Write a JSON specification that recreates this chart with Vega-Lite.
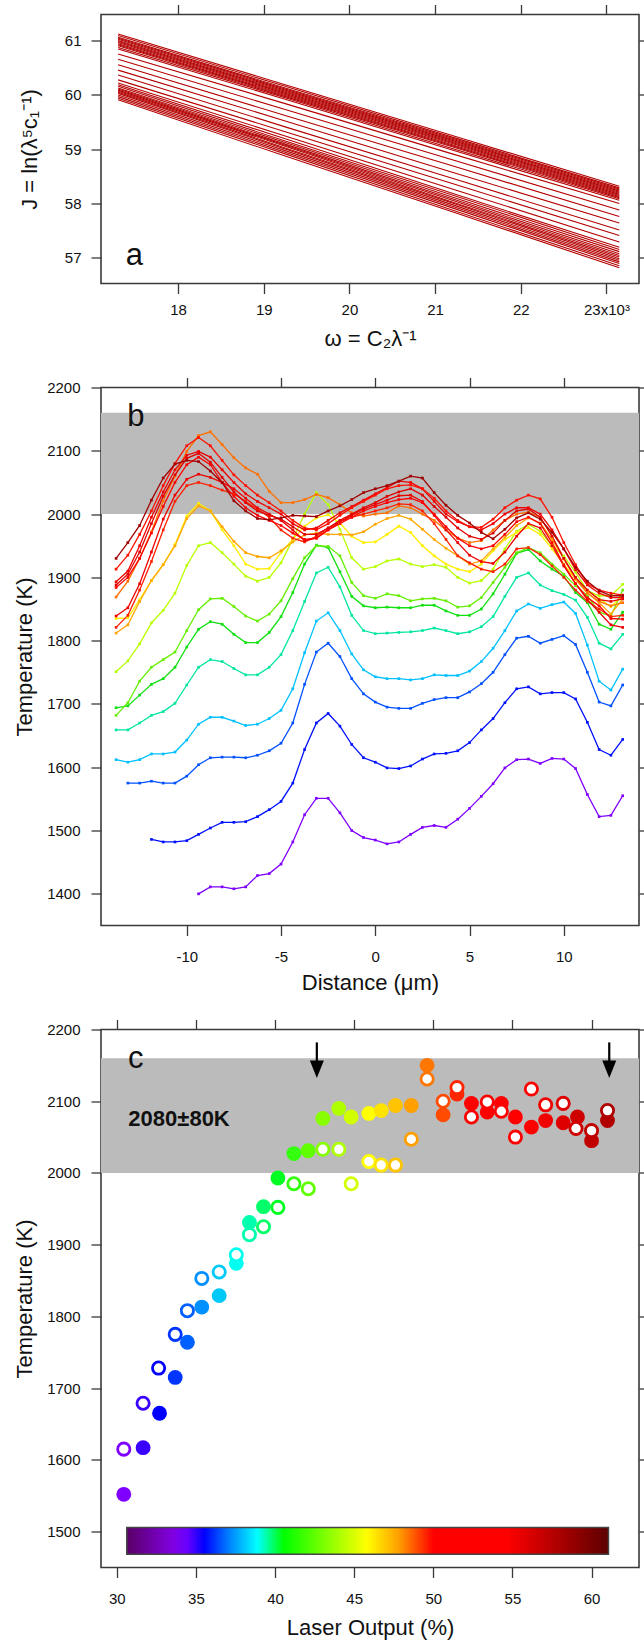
{
"$schema": "https://vega.github.io/schema/vega-lite/v6.json",
"padding": {"top": 2.5, "left": 12, "right": 0, "bottom": 0},
"bounds": "flush",
"spacing": 104,
"config": {
  "font": "Liberation Sans",
  "view": {"stroke": "#3a3a3a", "strokeWidth": 1.6},
  "axis": {"domain": false, "grid": false, "tickSize": 10, "tickColor": "#3a3a3a", "tickWidth": 1.3, "labelFont": "Liberation Sans", "labelFontSize": 15, "labelColor": "#111111", "titleFont": "Liberation Sans", "titleFontSize": 22, "titleFontWeight": "normal", "titleColor": "#111111", "labelOverlap": false, "labelFlush": false}
},
"datasets": {
"a": [
{"s":1,"w":17300,"j":61.13},{"s":1,"w":19250,"j":60.19},{"s":1,"w":21200,"j":59.25},{"s":1,"w":23150,"j":58.31},
{"s":2,"w":17300,"j":61.10},{"s":2,"w":19250,"j":60.16},{"s":2,"w":21200,"j":59.22},{"s":2,"w":23150,"j":58.28},
{"s":3,"w":17300,"j":61.07},{"s":3,"w":19250,"j":60.13},{"s":3,"w":21200,"j":59.20},{"s":3,"w":23150,"j":58.26},
{"s":4,"w":17300,"j":61.05},{"s":4,"w":19250,"j":60.11},{"s":4,"w":21200,"j":59.18},{"s":4,"w":23150,"j":58.24},
{"s":5,"w":17300,"j":61.03},{"s":5,"w":19250,"j":60.09},{"s":5,"w":21200,"j":59.16},{"s":5,"w":23150,"j":58.22},
{"s":6,"w":17300,"j":61.01},{"s":6,"w":19250,"j":60.07},{"s":6,"w":21200,"j":59.14},{"s":6,"w":23150,"j":58.20},
{"s":7,"w":17300,"j":60.99},{"s":7,"w":19250,"j":60.05},{"s":7,"w":21200,"j":59.12},{"s":7,"w":23150,"j":58.18},
{"s":8,"w":17300,"j":60.97},{"s":8,"w":19250,"j":60.03},{"s":8,"w":21200,"j":59.10},{"s":8,"w":23150,"j":58.16},
{"s":9,"w":17300,"j":60.95},{"s":9,"w":19250,"j":60.01},{"s":9,"w":21200,"j":59.08},{"s":9,"w":23150,"j":58.14},
{"s":10,"w":17300,"j":60.93},{"s":10,"w":19250,"j":59.99},{"s":10,"w":21200,"j":59.06},{"s":10,"w":23150,"j":58.12},
{"s":11,"w":17300,"j":60.91},{"s":11,"w":19250,"j":59.97},{"s":11,"w":21200,"j":59.04},{"s":11,"w":23150,"j":58.10},
{"s":12,"w":17300,"j":60.88},{"s":12,"w":19250,"j":59.95},{"s":12,"w":21200,"j":59.01},{"s":12,"w":23150,"j":58.08},
{"s":13,"w":17300,"j":60.85},{"s":13,"w":19250,"j":59.92},{"s":13,"w":21200,"j":58.98},{"s":13,"w":23150,"j":58.05},
{"s":14,"w":17300,"j":60.76},{"s":14,"w":19250,"j":59.84},{"s":14,"w":21200,"j":58.91},{"s":14,"w":23150,"j":57.99},
{"s":15,"w":17300,"j":60.66},{"s":15,"w":19250,"j":59.73},{"s":15,"w":21200,"j":58.80},{"s":15,"w":23150,"j":57.87},
{"s":16,"w":17300,"j":60.56},{"s":16,"w":19250,"j":59.62},{"s":16,"w":21200,"j":58.69},{"s":16,"w":23150,"j":57.75},
{"s":17,"w":17300,"j":60.46},{"s":17,"w":19250,"j":59.52},{"s":17,"w":21200,"j":58.57},{"s":17,"w":23150,"j":57.63},
{"s":18,"w":17300,"j":60.37},{"s":18,"w":19250,"j":59.41},{"s":18,"w":21200,"j":58.46},{"s":18,"w":23150,"j":57.50},
{"s":19,"w":17300,"j":60.28},{"s":19,"w":19250,"j":59.32},{"s":19,"w":21200,"j":58.36},{"s":19,"w":23150,"j":57.40},
{"s":20,"w":17300,"j":60.22},{"s":20,"w":19250,"j":59.24},{"s":20,"w":21200,"j":58.26},{"s":20,"w":23150,"j":57.28},
{"s":21,"w":17300,"j":60.19},{"s":21,"w":19250,"j":59.19},{"s":21,"w":21200,"j":58.18},{"s":21,"w":23150,"j":57.18},
{"s":22,"w":17300,"j":60.16},{"s":22,"w":19250,"j":59.15},{"s":22,"w":21200,"j":58.15},{"s":22,"w":23150,"j":57.14},
{"s":23,"w":17300,"j":60.13},{"s":23,"w":19250,"j":59.12},{"s":23,"w":21200,"j":58.11},{"s":23,"w":23150,"j":57.10},
{"s":24,"w":17300,"j":60.11},{"s":24,"w":19250,"j":59.09},{"s":24,"w":21200,"j":58.08},{"s":24,"w":23150,"j":57.06},
{"s":25,"w":17300,"j":60.09},{"s":25,"w":19250,"j":59.07},{"s":25,"w":21200,"j":58.05},{"s":25,"w":23150,"j":57.03},
{"s":26,"w":17300,"j":60.07},{"s":26,"w":19250,"j":59.05},{"s":26,"w":21200,"j":58.02},{"s":26,"w":23150,"j":57.00},
{"s":27,"w":17300,"j":60.05},{"s":27,"w":19250,"j":59.02},{"s":27,"w":21200,"j":58.00},{"s":27,"w":23150,"j":56.97},
{"s":28,"w":17300,"j":60.03},{"s":28,"w":19250,"j":59.00},{"s":28,"w":21200,"j":57.97},{"s":28,"w":23150,"j":56.94},
{"s":29,"w":17300,"j":60.00},{"s":29,"w":19250,"j":58.97},{"s":29,"w":21200,"j":57.94},{"s":29,"w":23150,"j":56.91},
{"s":30,"w":17300,"j":59.97},{"s":30,"w":19250,"j":58.94},{"s":30,"w":21200,"j":57.91},{"s":30,"w":23150,"j":56.88},
{"s":31,"w":17300,"j":59.94},{"s":31,"w":19250,"j":58.91},{"s":31,"w":21200,"j":57.87},{"s":31,"w":23150,"j":56.84},
{"s":32,"w":17300,"j":59.91},{"s":32,"w":19250,"j":58.87},{"s":32,"w":21200,"j":57.84},{"s":32,"w":23150,"j":56.80}
],
"b": [
{"s":1,"d":-9.375,"t":1400},{"s":1,"d":-8.75,"t":1411},{"s":1,"d":-8.125,"t":1411},{"s":1,"d":-7.5,"t":1408},{"s":1,"d":-6.875,"t":1411},{"s":1,"d":-6.25,"t":1429},{"s":1,"d":-5.625,"t":1432},{"s":1,"d":-5,"t":1447},{"s":1,"d":-4.375,"t":1482},{"s":1,"d":-3.75,"t":1525},{"s":1,"d":-3.125,"t":1551},{"s":1,"d":-2.5,"t":1551},{"s":1,"d":-1.875,"t":1528},{"s":1,"d":-1.25,"t":1500},{"s":1,"d":-0.625,"t":1489},{"s":1,"d":0,"t":1485},{"s":1,"d":0.625,"t":1479},{"s":1,"d":1.25,"t":1482},{"s":1,"d":1.875,"t":1494},{"s":1,"d":2.5,"t":1505},{"s":1,"d":3.125,"t":1508},{"s":1,"d":3.75,"t":1505},{"s":1,"d":4.375,"t":1518},{"s":1,"d":5,"t":1535},{"s":1,"d":5.625,"t":1554},{"s":1,"d":6.25,"t":1574},{"s":1,"d":6.875,"t":1599},{"s":1,"d":7.5,"t":1612},{"s":1,"d":8.125,"t":1613},{"s":1,"d":8.75,"t":1606},{"s":1,"d":9.375,"t":1614},{"s":1,"d":10,"t":1613},{"s":1,"d":10.625,"t":1598},{"s":1,"d":11.25,"t":1557},{"s":1,"d":11.875,"t":1522},{"s":1,"d":12.5,"t":1524},{"s":1,"d":13.125,"t":1555},
{"s":2,"d":-11.875,"t":1486},{"s":2,"d":-11.25,"t":1482},{"s":2,"d":-10.625,"t":1482},{"s":2,"d":-10,"t":1484},{"s":2,"d":-9.375,"t":1494},{"s":2,"d":-8.75,"t":1504},{"s":2,"d":-8.125,"t":1513},{"s":2,"d":-7.5,"t":1513},{"s":2,"d":-6.875,"t":1514},{"s":2,"d":-6.25,"t":1522},{"s":2,"d":-5.625,"t":1533},{"s":2,"d":-5,"t":1546},{"s":2,"d":-4.375,"t":1575},{"s":2,"d":-3.75,"t":1628},{"s":2,"d":-3.125,"t":1670},{"s":2,"d":-2.5,"t":1685},{"s":2,"d":-1.875,"t":1665},{"s":2,"d":-1.25,"t":1636},{"s":2,"d":-0.625,"t":1615},{"s":2,"d":0,"t":1608},{"s":2,"d":0.625,"t":1599},{"s":2,"d":1.25,"t":1598},{"s":2,"d":1.875,"t":1602},{"s":2,"d":2.5,"t":1613},{"s":2,"d":3.125,"t":1621},{"s":2,"d":3.75,"t":1622},{"s":2,"d":4.375,"t":1626},{"s":2,"d":5,"t":1639},{"s":2,"d":5.625,"t":1659},{"s":2,"d":6.25,"t":1677},{"s":2,"d":6.875,"t":1702},{"s":2,"d":7.5,"t":1724},{"s":2,"d":8.125,"t":1727},{"s":2,"d":8.75,"t":1716},{"s":2,"d":9.375,"t":1718},{"s":2,"d":10,"t":1718},{"s":2,"d":10.625,"t":1708},{"s":2,"d":11.25,"t":1671},{"s":2,"d":11.875,"t":1628},{"s":2,"d":12.5,"t":1619},{"s":2,"d":13.125,"t":1644},
{"s":3,"d":-13.125,"t":1575},{"s":3,"d":-12.5,"t":1575},{"s":3,"d":-11.875,"t":1578},{"s":3,"d":-11.25,"t":1575},{"s":3,"d":-10.625,"t":1575},{"s":3,"d":-10,"t":1586},{"s":3,"d":-9.375,"t":1604},{"s":3,"d":-8.75,"t":1615},{"s":3,"d":-8.125,"t":1616},{"s":3,"d":-7.5,"t":1616},{"s":3,"d":-6.875,"t":1615},{"s":3,"d":-6.25,"t":1619},{"s":3,"d":-5.625,"t":1626},{"s":3,"d":-5,"t":1638},{"s":3,"d":-4.375,"t":1670},{"s":3,"d":-3.75,"t":1731},{"s":3,"d":-3.125,"t":1782},{"s":3,"d":-2.5,"t":1796},{"s":3,"d":-1.875,"t":1775},{"s":3,"d":-1.25,"t":1740},{"s":3,"d":-0.625,"t":1716},{"s":3,"d":0,"t":1703},{"s":3,"d":0.625,"t":1695},{"s":3,"d":1.25,"t":1693},{"s":3,"d":1.875,"t":1693},{"s":3,"d":2.5,"t":1701},{"s":3,"d":3.125,"t":1707},{"s":3,"d":3.75,"t":1710},{"s":3,"d":4.375,"t":1710},{"s":3,"d":5,"t":1719},{"s":3,"d":5.625,"t":1732},{"s":3,"d":6.25,"t":1750},{"s":3,"d":6.875,"t":1778},{"s":3,"d":7.5,"t":1804},{"s":3,"d":8.125,"t":1807},{"s":3,"d":8.75,"t":1796},{"s":3,"d":9.375,"t":1802},{"s":3,"d":10,"t":1808},{"s":3,"d":10.625,"t":1794},{"s":3,"d":11.25,"t":1750},{"s":3,"d":11.875,"t":1703},{"s":3,"d":12.5,"t":1697},{"s":3,"d":13.125,"t":1730},
{"s":4,"d":-13.75,"t":1612},{"s":4,"d":-13.125,"t":1608},{"s":4,"d":-12.5,"t":1612},{"s":4,"d":-11.875,"t":1621},{"s":4,"d":-11.25,"t":1621},{"s":4,"d":-10.625,"t":1624},{"s":4,"d":-10,"t":1643},{"s":4,"d":-9.375,"t":1668},{"s":4,"d":-8.75,"t":1679},{"s":4,"d":-8.125,"t":1679},{"s":4,"d":-7.5,"t":1673},{"s":4,"d":-6.875,"t":1666},{"s":4,"d":-6.25,"t":1668},{"s":4,"d":-5.625,"t":1677},{"s":4,"d":-5,"t":1690},{"s":4,"d":-4.375,"t":1724},{"s":4,"d":-3.75,"t":1781},{"s":4,"d":-3.125,"t":1831},{"s":4,"d":-2.5,"t":1844},{"s":4,"d":-1.875,"t":1816},{"s":4,"d":-1.25,"t":1779},{"s":4,"d":-0.625,"t":1754},{"s":4,"d":0,"t":1743},{"s":4,"d":0.625,"t":1740},{"s":4,"d":1.25,"t":1740},{"s":4,"d":1.875,"t":1738},{"s":4,"d":2.5,"t":1740},{"s":4,"d":3.125,"t":1746},{"s":4,"d":3.75,"t":1745},{"s":4,"d":4.375,"t":1745},{"s":4,"d":5,"t":1752},{"s":4,"d":5.625,"t":1767},{"s":4,"d":6.25,"t":1788},{"s":4,"d":6.875,"t":1816},{"s":4,"d":7.5,"t":1847},{"s":4,"d":8.125,"t":1858},{"s":4,"d":8.75,"t":1851},{"s":4,"d":9.375,"t":1857},{"s":4,"d":10,"t":1861},{"s":4,"d":10.625,"t":1843},{"s":4,"d":11.25,"t":1793},{"s":4,"d":11.875,"t":1736},{"s":4,"d":12.5,"t":1722},{"s":4,"d":13.125,"t":1755},
{"s":5,"d":-13.75,"t":1659},{"s":5,"d":-13.125,"t":1659},{"s":5,"d":-12.5,"t":1670},{"s":5,"d":-11.875,"t":1682},{"s":5,"d":-11.25,"t":1688},{"s":5,"d":-10.625,"t":1701},{"s":5,"d":-10,"t":1730},{"s":5,"d":-9.375,"t":1758},{"s":5,"d":-8.75,"t":1770},{"s":5,"d":-8.125,"t":1767},{"s":5,"d":-7.5,"t":1756},{"s":5,"d":-6.875,"t":1746},{"s":5,"d":-6.25,"t":1746},{"s":5,"d":-5.625,"t":1758},{"s":5,"d":-5,"t":1778},{"s":5,"d":-4.375,"t":1816},{"s":5,"d":-3.75,"t":1862},{"s":5,"d":-3.125,"t":1907},{"s":5,"d":-2.5,"t":1916},{"s":5,"d":-1.875,"t":1885},{"s":5,"d":-1.25,"t":1840},{"s":5,"d":-0.625,"t":1816},{"s":5,"d":0,"t":1811},{"s":5,"d":0.625,"t":1812},{"s":5,"d":1.25,"t":1813},{"s":5,"d":1.875,"t":1814},{"s":5,"d":2.5,"t":1816},{"s":5,"d":3.125,"t":1820},{"s":5,"d":3.75,"t":1816},{"s":5,"d":4.375,"t":1811},{"s":5,"d":5,"t":1814},{"s":5,"d":5.625,"t":1822},{"s":5,"d":6.25,"t":1838},{"s":5,"d":6.875,"t":1870},{"s":5,"d":7.5,"t":1900},{"s":5,"d":8.125,"t":1907},{"s":5,"d":8.75,"t":1888},{"s":5,"d":9.375,"t":1879},{"s":5,"d":10,"t":1873},{"s":5,"d":10.625,"t":1864},{"s":5,"d":11.25,"t":1837},{"s":5,"d":11.875,"t":1796},{"s":5,"d":12.5,"t":1787},{"s":5,"d":13.125,"t":1810},
{"s":6,"d":-13.75,"t":1694},{"s":6,"d":-13.125,"t":1697},{"s":6,"d":-12.5,"t":1714},{"s":6,"d":-11.875,"t":1731},{"s":6,"d":-11.25,"t":1740},{"s":6,"d":-10.625,"t":1758},{"s":6,"d":-10,"t":1790},{"s":6,"d":-9.375,"t":1818},{"s":6,"d":-8.75,"t":1830},{"s":6,"d":-8.125,"t":1826},{"s":6,"d":-7.5,"t":1810},{"s":6,"d":-6.875,"t":1797},{"s":6,"d":-6.25,"t":1797},{"s":6,"d":-5.625,"t":1813},{"s":6,"d":-5,"t":1838},{"s":6,"d":-4.375,"t":1876},{"s":6,"d":-3.75,"t":1921},{"s":6,"d":-3.125,"t":1951},{"s":6,"d":-2.5,"t":1947},{"s":6,"d":-1.875,"t":1909},{"s":6,"d":-1.25,"t":1870},{"s":6,"d":-0.625,"t":1855},{"s":6,"d":0,"t":1852},{"s":6,"d":0.625,"t":1853},{"s":6,"d":1.25,"t":1852},{"s":6,"d":1.875,"t":1852},{"s":6,"d":2.5,"t":1856},{"s":6,"d":3.125,"t":1856},{"s":6,"d":3.75,"t":1847},{"s":6,"d":4.375,"t":1840},{"s":6,"d":5,"t":1840},{"s":6,"d":5.625,"t":1850},{"s":6,"d":6.25,"t":1874},{"s":6,"d":6.875,"t":1905},{"s":6,"d":7.5,"t":1938},{"s":6,"d":8.125,"t":1944},{"s":6,"d":8.75,"t":1926},{"s":6,"d":9.375,"t":1913},{"s":6,"d":10,"t":1902},{"s":6,"d":10.625,"t":1876},{"s":6,"d":11.25,"t":1860},{"s":6,"d":11.875,"t":1826},{"s":6,"d":12.5,"t":1818},{"s":6,"d":13.125,"t":1845},
{"s":7,"d":-13.75,"t":1682},{"s":7,"d":-13.125,"t":1702},{"s":7,"d":-12.5,"t":1736},{"s":7,"d":-11.875,"t":1758},{"s":7,"d":-11.25,"t":1770},{"s":7,"d":-10.625,"t":1782},{"s":7,"d":-10,"t":1816},{"s":7,"d":-9.375,"t":1849},{"s":7,"d":-8.75,"t":1866},{"s":7,"d":-8.125,"t":1867},{"s":7,"d":-7.5,"t":1854},{"s":7,"d":-6.875,"t":1839},{"s":7,"d":-6.25,"t":1831},{"s":7,"d":-5.625,"t":1842},{"s":7,"d":-5,"t":1863},{"s":7,"d":-4.375,"t":1898},{"s":7,"d":-3.75,"t":1931},{"s":7,"d":-3.125,"t":1950},{"s":7,"d":-2.5,"t":1949},{"s":7,"d":-1.875,"t":1934},{"s":7,"d":-1.25,"t":1892},{"s":7,"d":-0.625,"t":1871},{"s":7,"d":0,"t":1867},{"s":7,"d":0.625,"t":1874},{"s":7,"d":1.25,"t":1871},{"s":7,"d":1.875,"t":1863},{"s":7,"d":2.5,"t":1866},{"s":7,"d":3.125,"t":1867},{"s":7,"d":3.75,"t":1863},{"s":7,"d":4.375,"t":1853},{"s":7,"d":5,"t":1855},{"s":7,"d":5.625,"t":1868},{"s":7,"d":6.25,"t":1892},{"s":7,"d":6.875,"t":1916},{"s":7,"d":7.5,"t":1939},{"s":7,"d":8.125,"t":1947},{"s":7,"d":8.75,"t":1939},{"s":7,"d":9.375,"t":1921},{"s":7,"d":10,"t":1905},{"s":7,"d":10.625,"t":1887},{"s":7,"d":11.25,"t":1871},{"s":7,"d":11.875,"t":1845},{"s":7,"d":12.5,"t":1839},{"s":7,"d":13.125,"t":1880},
{"s":8,"d":-13.75,"t":1751},{"s":8,"d":-13.125,"t":1768},{"s":8,"d":-12.5,"t":1795},{"s":8,"d":-11.875,"t":1828},{"s":8,"d":-11.25,"t":1848},{"s":8,"d":-10.625,"t":1875},{"s":8,"d":-10,"t":1919},{"s":8,"d":-9.375,"t":1950},{"s":8,"d":-8.75,"t":1955},{"s":8,"d":-8.125,"t":1939},{"s":8,"d":-7.5,"t":1921},{"s":8,"d":-6.875,"t":1902},{"s":8,"d":-6.25,"t":1894},{"s":8,"d":-5.625,"t":1900},{"s":8,"d":-5,"t":1923},{"s":8,"d":-4.375,"t":1960},{"s":8,"d":-3.75,"t":2000},{"s":8,"d":-3.125,"t":2034},{"s":8,"d":-2.5,"t":2015},{"s":8,"d":-1.875,"t":1976},{"s":8,"d":-1.25,"t":1931},{"s":8,"d":-0.625,"t":1913},{"s":8,"d":0,"t":1917},{"s":8,"d":0.625,"t":1926},{"s":8,"d":1.25,"t":1929},{"s":8,"d":1.875,"t":1921},{"s":8,"d":2.5,"t":1917},{"s":8,"d":3.125,"t":1920},{"s":8,"d":3.75,"t":1916},{"s":8,"d":4.375,"t":1900},{"s":8,"d":5,"t":1891},{"s":8,"d":5.625,"t":1895},{"s":8,"d":6.25,"t":1913},{"s":8,"d":6.875,"t":1945},{"s":8,"d":7.5,"t":1973},{"s":8,"d":8.125,"t":1984},{"s":8,"d":8.75,"t":1973},{"s":8,"d":9.375,"t":1950},{"s":8,"d":10,"t":1934},{"s":8,"d":10.625,"t":1908},{"s":8,"d":11.25,"t":1879},{"s":8,"d":11.875,"t":1871},{"s":8,"d":12.5,"t":1871},{"s":8,"d":13.125,"t":1889},
{"s":9,"d":-13.75,"t":1835},{"s":9,"d":-13.125,"t":1836},{"s":9,"d":-12.5,"t":1865},{"s":9,"d":-11.875,"t":1895},{"s":9,"d":-11.25,"t":1920},{"s":9,"d":-10.625,"t":1952},{"s":9,"d":-10,"t":1997},{"s":9,"d":-9.375,"t":2017},{"s":9,"d":-8.75,"t":2005},{"s":9,"d":-8.125,"t":1975},{"s":9,"d":-7.5,"t":1950},{"s":9,"d":-6.875,"t":1921},{"s":9,"d":-6.25,"t":1913},{"s":9,"d":-5.625,"t":1914},{"s":9,"d":-5,"t":1939},{"s":9,"d":-4.375,"t":1960},{"s":9,"d":-3.75,"t":1981},{"s":9,"d":-3.125,"t":1994},{"s":9,"d":-2.5,"t":1999},{"s":9,"d":-1.875,"t":1986},{"s":9,"d":-1.25,"t":1965},{"s":9,"d":-0.625,"t":1955},{"s":9,"d":0,"t":1956},{"s":9,"d":0.625,"t":1968},{"s":9,"d":1.25,"t":1981},{"s":9,"d":1.875,"t":1971},{"s":9,"d":2.5,"t":1950},{"s":9,"d":3.125,"t":1934},{"s":9,"d":3.75,"t":1921},{"s":9,"d":4.375,"t":1913},{"s":9,"d":5,"t":1909},{"s":9,"d":5.625,"t":1921},{"s":9,"d":6.25,"t":1942},{"s":9,"d":6.875,"t":1960},{"s":9,"d":7.5,"t":1971},{"s":9,"d":8.125,"t":1979},{"s":9,"d":8.75,"t":1968},{"s":9,"d":9.375,"t":1945},{"s":9,"d":10,"t":1921},{"s":9,"d":10.625,"t":1897},{"s":9,"d":11.25,"t":1879},{"s":9,"d":11.875,"t":1866},{"s":9,"d":12.5,"t":1854},{"s":9,"d":13.125,"t":1871},
{"s":10,"d":-13.75,"t":1812},{"s":10,"d":-13.125,"t":1825},{"s":10,"d":-12.5,"t":1862},{"s":10,"d":-11.875,"t":1895},{"s":10,"d":-11.25,"t":1920},{"s":10,"d":-10.625,"t":1950},{"s":10,"d":-10,"t":1993},{"s":10,"d":-9.375,"t":2013},{"s":10,"d":-8.75,"t":2005},{"s":10,"d":-8.125,"t":1980},{"s":10,"d":-7.5,"t":1957},{"s":10,"d":-6.875,"t":1939},{"s":10,"d":-6.25,"t":1933},{"s":10,"d":-5.625,"t":1931},{"s":10,"d":-5,"t":1942},{"s":10,"d":-4.375,"t":1956},{"s":10,"d":-3.75,"t":1967},{"s":10,"d":-3.125,"t":1970},{"s":10,"d":-2.5,"t":1968},{"s":10,"d":-1.875,"t":1968},{"s":10,"d":-1.25,"t":1967},{"s":10,"d":-0.625,"t":1972},{"s":10,"d":0,"t":1984},{"s":10,"d":0.625,"t":1993},{"s":10,"d":1.25,"t":1998},{"s":10,"d":1.875,"t":1992},{"s":10,"d":2.5,"t":1976},{"s":10,"d":3.125,"t":1960},{"s":10,"d":3.75,"t":1946},{"s":10,"d":4.375,"t":1934},{"s":10,"d":5,"t":1921},{"s":10,"d":5.625,"t":1926},{"s":10,"d":6.25,"t":1945},{"s":10,"d":6.875,"t":1963},{"s":10,"d":7.5,"t":1982},{"s":10,"d":8.125,"t":1994},{"s":10,"d":8.75,"t":1986},{"s":10,"d":9.375,"t":1960},{"s":10,"d":10,"t":1929},{"s":10,"d":10.625,"t":1897},{"s":10,"d":11.25,"t":1876},{"s":10,"d":11.875,"t":1860},{"s":10,"d":12.5,"t":1842},{"s":10,"d":13.125,"t":1866},
{"s":11,"d":-13.75,"t":1869},{"s":11,"d":-13.125,"t":1894},{"s":11,"d":-12.5,"t":1930},{"s":11,"d":-11.875,"t":1972},{"s":11,"d":-11.25,"t":2021},{"s":11,"d":-10.625,"t":2060},{"s":11,"d":-10,"t":2099},{"s":11,"d":-9.375,"t":2124},{"s":11,"d":-8.75,"t":2130},{"s":11,"d":-8.125,"t":2110},{"s":11,"d":-7.5,"t":2089},{"s":11,"d":-6.875,"t":2073},{"s":11,"d":-6.25,"t":2063},{"s":11,"d":-5.625,"t":2036},{"s":11,"d":-5,"t":2018},{"s":11,"d":-4.375,"t":2018},{"s":11,"d":-3.75,"t":2023},{"s":11,"d":-3.125,"t":2031},{"s":11,"d":-2.5,"t":2026},{"s":11,"d":-1.875,"t":2015},{"s":11,"d":-1.25,"t":2002},{"s":11,"d":-0.625,"t":1997},{"s":11,"d":0,"t":2000},{"s":11,"d":0.625,"t":2002},{"s":11,"d":1.25,"t":2013},{"s":11,"d":1.875,"t":2010},{"s":11,"d":2.5,"t":2000},{"s":11,"d":3.125,"t":1990},{"s":11,"d":3.75,"t":1975},{"s":11,"d":4.375,"t":1962},{"s":11,"d":5,"t":1955},{"s":11,"d":5.625,"t":1958},{"s":11,"d":6.25,"t":1975},{"s":11,"d":6.875,"t":1990},{"s":11,"d":7.5,"t":2000},{"s":11,"d":8.125,"t":2003},{"s":11,"d":8.75,"t":1995},{"s":11,"d":9.375,"t":1965},{"s":11,"d":10,"t":1930},{"s":11,"d":10.625,"t":1898},{"s":11,"d":11.25,"t":1875},{"s":11,"d":11.875,"t":1862},{"s":11,"d":12.5,"t":1855},{"s":11,"d":13.125,"t":1860},
{"s":12,"d":-13.75,"t":1821},{"s":12,"d":-13.125,"t":1840},{"s":12,"d":-12.5,"t":1880},{"s":12,"d":-11.875,"t":1925},{"s":12,"d":-11.25,"t":1975},{"s":12,"d":-10.625,"t":2020},{"s":12,"d":-10,"t":2045},{"s":12,"d":-9.375,"t":2050},{"s":12,"d":-8.75,"t":2045},{"s":12,"d":-8.125,"t":2038},{"s":12,"d":-7.5,"t":2032},{"s":12,"d":-6.875,"t":2020},{"s":12,"d":-6.25,"t":2008},{"s":12,"d":-5.625,"t":1995},{"s":12,"d":-5,"t":1975},{"s":12,"d":-4.375,"t":1962},{"s":12,"d":-3.75,"t":1956},{"s":12,"d":-3.125,"t":1965},{"s":12,"d":-2.5,"t":1978},{"s":12,"d":-1.875,"t":1988},{"s":12,"d":-1.25,"t":1995},{"s":12,"d":-0.625,"t":2000},{"s":12,"d":0,"t":2005},{"s":12,"d":0.625,"t":2010},{"s":12,"d":1.25,"t":2016},{"s":12,"d":1.875,"t":2015},{"s":12,"d":2.5,"t":2005},{"s":12,"d":3.125,"t":1985},{"s":12,"d":3.75,"t":1960},{"s":12,"d":4.375,"t":1934},{"s":12,"d":5,"t":1923},{"s":12,"d":5.625,"t":1913},{"s":12,"d":6.25,"t":1909},{"s":12,"d":6.875,"t":1921},{"s":12,"d":7.5,"t":1945},{"s":12,"d":8.125,"t":1947},{"s":12,"d":8.75,"t":1936},{"s":12,"d":9.375,"t":1918},{"s":12,"d":10,"t":1900},{"s":12,"d":10.625,"t":1880},{"s":12,"d":11.25,"t":1862},{"s":12,"d":11.875,"t":1850},{"s":12,"d":12.5,"t":1838},{"s":12,"d":13.125,"t":1840},
{"s":13,"d":-13.75,"t":1839},{"s":13,"d":-13.125,"t":1852},{"s":13,"d":-12.5,"t":1890},{"s":13,"d":-11.875,"t":1940},{"s":13,"d":-11.25,"t":1992},{"s":13,"d":-10.625,"t":2030},{"s":13,"d":-10,"t":2055},{"s":13,"d":-9.375,"t":2063},{"s":13,"d":-8.75,"t":2058},{"s":13,"d":-8.125,"t":2050},{"s":13,"d":-7.5,"t":2040},{"s":13,"d":-6.875,"t":2025},{"s":13,"d":-6.25,"t":2010},{"s":13,"d":-5.625,"t":2000},{"s":13,"d":-5,"t":1990},{"s":13,"d":-4.375,"t":1975},{"s":13,"d":-3.75,"t":1958},{"s":13,"d":-3.125,"t":1962},{"s":13,"d":-2.5,"t":1975},{"s":13,"d":-1.875,"t":1988},{"s":13,"d":-1.25,"t":1998},{"s":13,"d":-0.625,"t":2008},{"s":13,"d":0,"t":2015},{"s":13,"d":0.625,"t":2022},{"s":13,"d":1.25,"t":2029},{"s":13,"d":1.875,"t":2030},{"s":13,"d":2.5,"t":2020},{"s":13,"d":3.125,"t":1998},{"s":13,"d":3.75,"t":1975},{"s":13,"d":4.375,"t":1955},{"s":13,"d":5,"t":1935},{"s":13,"d":5.625,"t":1925},{"s":13,"d":6.25,"t":1922},{"s":13,"d":6.875,"t":1940},{"s":13,"d":7.5,"t":1965},{"s":13,"d":8.125,"t":1985},{"s":13,"d":8.75,"t":1978},{"s":13,"d":9.375,"t":1950},{"s":13,"d":10,"t":1918},{"s":13,"d":10.625,"t":1890},{"s":13,"d":11.25,"t":1865},{"s":13,"d":11.875,"t":1845},{"s":13,"d":12.5,"t":1825},{"s":13,"d":13.125,"t":1821},
{"s":14,"d":-13.75,"t":1884},{"s":14,"d":-13.125,"t":1900},{"s":14,"d":-12.5,"t":1930},{"s":14,"d":-11.875,"t":1970},{"s":14,"d":-11.25,"t":2012},{"s":14,"d":-10.625,"t":2050},{"s":14,"d":-10,"t":2078},{"s":14,"d":-9.375,"t":2090},{"s":14,"d":-8.75,"t":2078},{"s":14,"d":-8.125,"t":2050},{"s":14,"d":-7.5,"t":2028},{"s":14,"d":-6.875,"t":2010},{"s":14,"d":-6.25,"t":1998},{"s":14,"d":-5.625,"t":1990},{"s":14,"d":-5,"t":1982},{"s":14,"d":-4.375,"t":1970},{"s":14,"d":-3.75,"t":1960},{"s":14,"d":-3.125,"t":1962},{"s":14,"d":-2.5,"t":1975},{"s":14,"d":-1.875,"t":1985},{"s":14,"d":-1.25,"t":1995},{"s":14,"d":-0.625,"t":2005},{"s":14,"d":0,"t":2012},{"s":14,"d":0.625,"t":2018},{"s":14,"d":1.25,"t":2023},{"s":14,"d":1.875,"t":2025},{"s":14,"d":2.5,"t":2018},{"s":14,"d":3.125,"t":2000},{"s":14,"d":3.75,"t":1980},{"s":14,"d":4.375,"t":1962},{"s":14,"d":5,"t":1950},{"s":14,"d":5.625,"t":1945},{"s":14,"d":6.25,"t":1950},{"s":14,"d":6.875,"t":1968},{"s":14,"d":7.5,"t":1988},{"s":14,"d":8.125,"t":1995},{"s":14,"d":8.75,"t":1985},{"s":14,"d":9.375,"t":1955},{"s":14,"d":10,"t":1920},{"s":14,"d":10.625,"t":1890},{"s":14,"d":11.25,"t":1868},{"s":14,"d":11.875,"t":1855},{"s":14,"d":12.5,"t":1835},{"s":14,"d":13.125,"t":1834},
{"s":15,"d":-13.75,"t":1888},{"s":15,"d":-13.125,"t":1905},{"s":15,"d":-12.5,"t":1940},{"s":15,"d":-11.875,"t":1985},{"s":15,"d":-11.25,"t":2028},{"s":15,"d":-10.625,"t":2062},{"s":15,"d":-10,"t":2088},{"s":15,"d":-9.375,"t":2096},{"s":15,"d":-8.75,"t":2082},{"s":15,"d":-8.125,"t":2058},{"s":15,"d":-7.5,"t":2035},{"s":15,"d":-6.875,"t":2018},{"s":15,"d":-6.25,"t":2005},{"s":15,"d":-5.625,"t":1998},{"s":15,"d":-5,"t":1992},{"s":15,"d":-4.375,"t":1980},{"s":15,"d":-3.75,"t":1968},{"s":15,"d":-3.125,"t":1968},{"s":15,"d":-2.5,"t":1978},{"s":15,"d":-1.875,"t":1990},{"s":15,"d":-1.25,"t":2000},{"s":15,"d":-0.625,"t":2010},{"s":15,"d":0,"t":2018},{"s":15,"d":0.625,"t":2028},{"s":15,"d":1.25,"t":2035},{"s":15,"d":1.875,"t":2040},{"s":15,"d":2.5,"t":2030},{"s":15,"d":3.125,"t":2012},{"s":15,"d":3.75,"t":1995},{"s":15,"d":4.375,"t":1978},{"s":15,"d":5,"t":1965},{"s":15,"d":5.625,"t":1960},{"s":15,"d":6.25,"t":1970},{"s":15,"d":6.875,"t":1990},{"s":15,"d":7.5,"t":2005},{"s":15,"d":8.125,"t":2008},{"s":15,"d":8.75,"t":1995},{"s":15,"d":9.375,"t":1965},{"s":15,"d":10,"t":1930},{"s":15,"d":10.625,"t":1900},{"s":15,"d":11.25,"t":1880},{"s":15,"d":11.875,"t":1865},{"s":15,"d":12.5,"t":1862},{"s":15,"d":13.125,"t":1866},
{"s":16,"d":-13.75,"t":1893},{"s":16,"d":-13.125,"t":1910},{"s":16,"d":-12.5,"t":1950},{"s":16,"d":-11.875,"t":1995},{"s":16,"d":-11.25,"t":2035},{"s":16,"d":-10.625,"t":2070},{"s":16,"d":-10,"t":2093},{"s":16,"d":-9.375,"t":2099},{"s":16,"d":-8.75,"t":2090},{"s":16,"d":-8.125,"t":2070},{"s":16,"d":-7.5,"t":2050},{"s":16,"d":-6.875,"t":2032},{"s":16,"d":-6.25,"t":2020},{"s":16,"d":-5.625,"t":2010},{"s":16,"d":-5,"t":2000},{"s":16,"d":-4.375,"t":1985},{"s":16,"d":-3.75,"t":1975},{"s":16,"d":-3.125,"t":1978},{"s":16,"d":-2.5,"t":1990},{"s":16,"d":-1.875,"t":2002},{"s":16,"d":-1.25,"t":2012},{"s":16,"d":-0.625,"t":2022},{"s":16,"d":0,"t":2032},{"s":16,"d":0.625,"t":2042},{"s":16,"d":1.25,"t":2052},{"s":16,"d":1.875,"t":2050},{"s":16,"d":2.5,"t":2040},{"s":16,"d":3.125,"t":2020},{"s":16,"d":3.75,"t":2000},{"s":16,"d":4.375,"t":1988},{"s":16,"d":5,"t":1980},{"s":16,"d":5.625,"t":1975},{"s":16,"d":6.25,"t":1985},{"s":16,"d":6.875,"t":2000},{"s":16,"d":7.5,"t":2010},{"s":16,"d":8.125,"t":2010},{"s":16,"d":8.75,"t":2000},{"s":16,"d":9.375,"t":1975},{"s":16,"d":10,"t":1945},{"s":16,"d":10.625,"t":1912},{"s":16,"d":11.25,"t":1888},{"s":16,"d":11.875,"t":1875},{"s":16,"d":12.5,"t":1868},{"s":16,"d":13.125,"t":1868},
{"s":17,"d":-13.75,"t":1913},{"s":17,"d":-13.125,"t":1935},{"s":17,"d":-12.5,"t":1968},{"s":17,"d":-11.875,"t":2005},{"s":17,"d":-11.25,"t":2045},{"s":17,"d":-10.625,"t":2080},{"s":17,"d":-10,"t":2108},{"s":17,"d":-9.375,"t":2121},{"s":17,"d":-8.75,"t":2108},{"s":17,"d":-8.125,"t":2085},{"s":17,"d":-7.5,"t":2062},{"s":17,"d":-6.875,"t":2045},{"s":17,"d":-6.25,"t":2030},{"s":17,"d":-5.625,"t":2018},{"s":17,"d":-5,"t":2005},{"s":17,"d":-4.375,"t":1990},{"s":17,"d":-3.75,"t":1978},{"s":17,"d":-3.125,"t":1975},{"s":17,"d":-2.5,"t":1985},{"s":17,"d":-1.875,"t":1998},{"s":17,"d":-1.25,"t":2010},{"s":17,"d":-0.625,"t":2020},{"s":17,"d":0,"t":2030},{"s":17,"d":0.625,"t":2040},{"s":17,"d":1.25,"t":2045},{"s":17,"d":1.875,"t":2046},{"s":17,"d":2.5,"t":2040},{"s":17,"d":3.125,"t":2025},{"s":17,"d":3.75,"t":2005},{"s":17,"d":4.375,"t":1990},{"s":17,"d":5,"t":1980},{"s":17,"d":5.625,"t":1979},{"s":17,"d":6.25,"t":1992},{"s":17,"d":6.875,"t":2010},{"s":17,"d":7.5,"t":2022},{"s":17,"d":8.125,"t":2030},{"s":17,"d":8.75,"t":2024},{"s":17,"d":9.375,"t":1995},{"s":17,"d":10,"t":1955},{"s":17,"d":10.625,"t":1920},{"s":17,"d":11.25,"t":1890},{"s":17,"d":11.875,"t":1880},{"s":17,"d":12.5,"t":1875},{"s":17,"d":13.125,"t":1872},
{"s":18,"d":-13.75,"t":1930},{"s":18,"d":-13.125,"t":1955},{"s":18,"d":-12.5,"t":1982},{"s":18,"d":-11.875,"t":2022},{"s":18,"d":-11.25,"t":2057},{"s":18,"d":-10.625,"t":2079},{"s":18,"d":-10,"t":2085},{"s":18,"d":-9.375,"t":2083},{"s":18,"d":-8.75,"t":2068},{"s":18,"d":-8.125,"t":2050},{"s":18,"d":-7.5,"t":2021},{"s":18,"d":-6.875,"t":2005},{"s":18,"d":-6.25,"t":1993},{"s":18,"d":-5.625,"t":1991},{"s":18,"d":-5,"t":1994},{"s":18,"d":-4.375,"t":1998},{"s":18,"d":-3.75,"t":1997},{"s":18,"d":-3.125,"t":1996},{"s":18,"d":-2.5,"t":2005},{"s":18,"d":-1.875,"t":2013},{"s":18,"d":-1.25,"t":2023},{"s":18,"d":-0.625,"t":2034},{"s":18,"d":0,"t":2040},{"s":18,"d":0.625,"t":2045},{"s":18,"d":1.25,"t":2052},{"s":18,"d":1.875,"t":2060},{"s":18,"d":2.5,"t":2057},{"s":18,"d":3.125,"t":2034},{"s":18,"d":3.75,"t":2014},{"s":18,"d":4.375,"t":1998},{"s":18,"d":5,"t":1986},{"s":18,"d":5.625,"t":1971},{"s":18,"d":6.25,"t":1961},{"s":18,"d":6.875,"t":1976},{"s":18,"d":7.5,"t":1994},{"s":18,"d":8.125,"t":2002},{"s":18,"d":8.75,"t":1992},{"s":18,"d":9.375,"t":1971},{"s":18,"d":10,"t":1945},{"s":18,"d":10.625,"t":1916},{"s":18,"d":11.25,"t":1894},{"s":18,"d":11.875,"t":1879},{"s":18,"d":12.5,"t":1871},{"s":18,"d":13.125,"t":1871}
],
"c": [
{"x":30.44,"t":1552,"f":"filled"},{"x":31.66,"t":1617,"f":"filled"},{"x":32.70,"t":1665,"f":"filled"},{"x":33.69,"t":1715,"f":"filled"},{"x":34.46,"t":1764,"f":"filled"},{"x":35.37,"t":1813,"f":"filled"},{"x":36.47,"t":1829,"f":"filled"},{"x":37.55,"t":1874,"f":"filled"},{"x":38.38,"t":1931,"f":"filled"},{"x":39.27,"t":1953,"f":"filled"},{"x":40.18,"t":1993,"f":"filled"},{"x":41.19,"t":2027,"f":"filled"},{"x":42.09,"t":2031,"f":"filled"},{"x":43.02,"t":2076,"f":"filled"},{"x":44.03,"t":2090,"f":"filled"},{"x":44.81,"t":2078,"f":"filled"},{"x":45.93,"t":2083,"f":"filled"},{"x":46.71,"t":2087,"f":"filled"},{"x":47.61,"t":2094,"f":"filled"},{"x":48.61,"t":2094,"f":"filled"},{"x":49.61,"t":2150,"f":"filled"},{"x":50.62,"t":2081,"f":"filled"},{"x":51.50,"t":2110,"f":"filled"},{"x":52.41,"t":2097,"f":"filled"},{"x":53.41,"t":2085,"f":"filled"},{"x":54.30,"t":2097,"f":"filled"},{"x":55.19,"t":2078,"f":"filled"},{"x":56.20,"t":2064,"f":"filled"},{"x":57.10,"t":2073,"f":"filled"},{"x":58.21,"t":2070,"f":"filled"},{"x":59.11,"t":2078,"f":"filled"},{"x":60.00,"t":2045,"f":"filled"},{"x":61.01,"t":2073,"f":"filled"},
{"x":30.44,"t":1615,"f":"open"},{"x":31.66,"t":1679,"f":"open"},{"x":32.64,"t":1728,"f":"open"},{"x":33.69,"t":1775,"f":"open"},{"x":34.46,"t":1808,"f":"open"},{"x":35.37,"t":1853,"f":"open"},{"x":36.47,"t":1862,"f":"open"},{"x":37.55,"t":1886,"f":"open"},{"x":38.38,"t":1914,"f":"open"},{"x":39.27,"t":1925,"f":"open"},{"x":40.18,"t":1952,"f":"open"},{"x":41.19,"t":1985,"f":"open"},{"x":42.10,"t":1978,"f":"open"},{"x":43.02,"t":2033,"f":"open"},{"x":44.03,"t":2033,"f":"open"},{"x":44.81,"t":1985,"f":"open"},{"x":45.93,"t":2016,"f":"open"},{"x":46.71,"t":2011,"f":"open"},{"x":47.61,"t":2011,"f":"open"},{"x":48.61,"t":2047,"f":"open"},{"x":49.61,"t":2131,"f":"open"},{"x":50.62,"t":2100,"f":"open"},{"x":51.50,"t":2119,"f":"open"},{"x":52.41,"t":2078,"f":"open"},{"x":53.41,"t":2099,"f":"open"},{"x":54.30,"t":2086,"f":"open"},{"x":55.19,"t":2050,"f":"open"},{"x":56.20,"t":2117,"f":"open"},{"x":57.10,"t":2095,"f":"open"},{"x":58.21,"t":2097,"f":"open"},{"x":59.02,"t":2062,"f":"open"},{"x":60.00,"t":2059,"f":"open"},{"x":61.01,"t":2087,"f":"open"}
]
},
"vconcat": [
{
 "width": 538, "height": 269,
 "layer": [
  {"data": {"name": "a"},
   "mark": {"type": "line", "color": "#b40000", "strokeWidth": 1.1},
   "encoding": {
    "x": {"field": "w", "type": "quantitative", "scale": {"domain": [17100, 23380], "nice": false, "zero": false},
      "axis": {"orient": "bottom", "values": [18000,19000,20000,21000,22000,23000], "labelExpr": "datum.value == 23000 ? '23x10³' : format(datum.value/1000, 'd')", "labelPadding": 9, "title": "ω = C₂λ⁻¹", "titleY": 62, "titleBaseline": "alphabetic"}},
    "y": {"field": "j", "type": "quantitative", "scale": {"domain": [56.51, 61.49], "nice": false, "zero": false},
      "axis": {"orient": "left", "values": [57,58,59,60,61], "labelPadding": 10, "title": "J = ln(λ⁵c₁⁻¹)", "titleX": -65, "titleBaseline": "alphabetic"}},
    "detail": {"field": "s", "type": "nominal"}
   }},
  {"data": {"values": [{"lab": "a", "w": 17490, "j": 56.85}]},
   "mark": {"type": "text", "fontSize": 31, "align": "center", "baseline": "alphabetic", "color": "#111111"},
   "encoding": {
    "x": {"field": "w", "type": "quantitative", "scale": {"domain": [17100, 23380], "nice": false, "zero": false},
      "axis": {"orient": "top", "values": [18000,19000,20000,21000,22000,23000], "labels": false, "title": null}},
    "y": {"field": "j", "type": "quantitative", "scale": {"domain": [56.51, 61.49], "nice": false, "zero": false},
      "axis": {"orient": "right", "values": [57,58,59,60,61], "labels": false, "title": null}},
    "text": {"field": "lab"}
   }}
 ]
},
{
 "width": 538, "height": 538,
 "layer": [
  {"data": {"values": [{"lo": 2000, "hi": 2160}]},
   "mark": {"type": "rect", "color": "#bbbbbb"},
   "encoding": {
    "y": {"field": "lo", "type": "quantitative", "scale": {"domain": [1350, 2200], "nice": false, "zero": false}, "axis": null},
    "y2": {"field": "hi"},
    "x": {"value": 0}, "x2": {"value": "width"}
   }},
  {"data": {"name": "b"},
   "mark": {"type": "line", "strokeWidth": 1.3, "point": {"shape": "square", "size": 7, "filled": true}},
   "encoding": {
    "x": {"field": "d", "type": "quantitative", "scale": {"domain": [-14.55, 13.99], "nice": false, "zero": false},
      "axis": {"orient": "bottom", "values": [-10,-5,0,5,10], "labelExpr": "'' + datum.value", "labelPadding": 14, "title": "Distance (μm)", "titleY": 64, "titleBaseline": "alphabetic"}},
    "y": {"field": "t", "type": "quantitative", "scale": {"domain": [1350, 2200], "nice": false, "zero": false},
      "axis": {"orient": "left", "values": [1400,1500,1600,1700,1800,1900,2000,2100,2200], "format": "d", "labelPadding": 11, "title": "Temperature (K)", "titleX": -70, "titleBaseline": "alphabetic"}},
    "color": {"field": "s", "type": "nominal", "legend": null,
      "scale": {"domain": [1,2,3,4,5,6,7,8,9,10,11,12,13,14,15,16,17,18],
        "range": ["#7f00ff","#0010ff","#0050ff","#00c0ff","#00e6a0","#10e010","#66ee00","#b8ff00","#ffee00","#ffa500","#ff7000","#ff2000","#ee0000","#ff0000","#e00000","#f00000","#ff1000","#a00000"]}}
   }},
  {"data": {"values": [{"lab": "b", "d": -12.7, "t": 2139}]},
   "mark": {"type": "text", "fontSize": 31, "align": "center", "baseline": "alphabetic", "color": "#111111"},
   "encoding": {
    "x": {"field": "d", "type": "quantitative", "scale": {"domain": [-14.55, 13.99], "nice": false, "zero": false},
      "axis": {"orient": "top", "values": [-10,-5,0,5,10], "labels": false, "title": null}},
    "y": {"field": "t", "type": "quantitative", "scale": {"domain": [1350, 2200], "nice": false, "zero": false},
      "axis": {"orient": "right", "values": [1400,1500,1600,1700,1800,1900,2000,2100,2200], "labels": false, "title": null}},
    "text": {"field": "lab"}
   }}
 ]
},
{
 "width": 538, "height": 538,
 "layer": [
  {"data": {"values": [{"lo": 2000, "hi": 2160}]},
   "mark": {"type": "rect", "color": "#bbbbbb"},
   "encoding": {
    "y": {"field": "lo", "type": "quantitative", "scale": {"domain": [1450, 2200], "nice": false, "zero": false}, "axis": null},
    "y2": {"field": "hi"},
    "x": {"value": 0}, "x2": {"value": "width"}
   }},
  {"data": {"values": [{"x0": 30.63, "x1": 61.07, "y0": 1468.6, "y1": 1505.6}]},
   "mark": {"type": "rect", "stroke": "#444444", "strokeWidth": 1.5,
     "fill": {"gradient": "linear", "x1": 0, "y1": 0, "x2": 1, "y2": 0, "stops": [
       {"offset": 0, "color": "#5a0066"}, {"offset": 0.095, "color": "#8000e0"}, {"offset": 0.125, "color": "#6a00ff"},
       {"offset": 0.161, "color": "#0000ff"}, {"offset": 0.212, "color": "#0080ff"}, {"offset": 0.271, "color": "#00ffff"},
       {"offset": 0.326, "color": "#00ff00"}, {"offset": 0.498, "color": "#ffff00"}, {"offset": 0.564, "color": "#ffa000"},
       {"offset": 0.637, "color": "#ff0000"}, {"offset": 0.79, "color": "#ff0000"}, {"offset": 1, "color": "#5c0000"}]}},
   "encoding": {
    "x": {"field": "x0", "type": "quantitative", "scale": {"domain": [29, 63], "nice": false, "zero": false}, "axis": null},
    "x2": {"field": "x1"},
    "y": {"field": "y0", "type": "quantitative", "scale": {"domain": [1450, 2200], "nice": false, "zero": false}, "axis": null},
    "y2": {"field": "y1"}
   }},
  {"data": {"name": "c"},
   "transform": [{"filter": "datum.f == 'filled'"}],
   "mark": {"type": "circle", "size": 220, "opacity": 1},
   "encoding": {
    "x": {"field": "x", "type": "quantitative", "scale": {"domain": [29, 63], "nice": false, "zero": false},
      "axis": {"orient": "bottom", "values": [30,35,40,45,50,55,60], "labelPadding": 13.5, "title": "Laser Output (%)", "titleY": 67, "titleBaseline": "alphabetic"}},
    "y": {"field": "t", "type": "quantitative", "scale": {"domain": [1450, 2200], "nice": false, "zero": false},
      "axis": {"orient": "left", "values": [1500,1600,1700,1800,1900,2000,2100,2200], "format": "d", "labelPadding": 11, "title": "Temperature (K)", "titleX": -70, "titleBaseline": "alphabetic"}},
    "color": {"field": "x", "type": "quantitative", "legend": null,
      "scale": {"domain": [30.44, 32.7, 35.37, 37.55, 40.18, 42.09, 45.93, 48.61, 52.41, 56.2, 61.01],
        "range": ["#7f00ff","#0000ff","#0090ff","#00fff0","#00ff20","#60ff00","#ffff00","#ffa000","#ff0000","#ff0000","#b00000"], "interpolate": "rgb"}}
   }},
  {"data": {"name": "c"},
   "transform": [{"filter": "datum.f == 'open'"}],
   "mark": {"type": "point", "shape": "circle", "size": 150, "filled": false, "fill": "white", "fillOpacity": 1, "strokeWidth": 2.8, "opacity": 1},
   "encoding": {
    "x": {"field": "x", "type": "quantitative", "scale": {"domain": [29, 63], "nice": false, "zero": false}, "axis": null},
    "y": {"field": "t", "type": "quantitative", "scale": {"domain": [1450, 2200], "nice": false, "zero": false}, "axis": null},
    "color": {"field": "x", "type": "quantitative", "legend": null,
      "scale": {"domain": [30.44, 32.7, 35.37, 37.55, 40.18, 42.09, 45.93, 48.61, 52.41, 56.2, 61.01],
        "range": ["#7f00ff","#0000ff","#0090ff","#00fff0","#00ff20","#60ff00","#ffff00","#ffa000","#ff0000","#ff0000","#b00000"], "interpolate": "rgb"}}
   }},
  {"data": {"values": [{"x": 42.64, "top": 2182, "bot": 2150}, {"x": 61.12, "top": 2182, "bot": 2150}]},
   "mark": {"type": "rule", "color": "#000000", "strokeWidth": 2.2},
   "encoding": {
    "x": {"field": "x", "type": "quantitative", "scale": {"domain": [29, 63], "nice": false, "zero": false}, "axis": null},
    "y": {"field": "top", "type": "quantitative", "scale": {"domain": [1450, 2200], "nice": false, "zero": false}, "axis": null},
    "y2": {"field": "bot"}
   }},
  {"data": {"values": [{"x": 42.64, "t": 2144.6}, {"x": 61.12, "t": 2144.6}]},
   "mark": {"type": "point", "shape": "M-1,-1.25L1,-1.25L0,1.25Z", "size": 196, "filled": true, "color": "#000000", "opacity": 1},
   "encoding": {
    "x": {"field": "x", "type": "quantitative", "scale": {"domain": [29, 63], "nice": false, "zero": false}, "axis": null},
    "y": {"field": "t", "type": "quantitative", "scale": {"domain": [1450, 2200], "nice": false, "zero": false}, "axis": null}
   }},
  {"data": {"values": [{"lab": "2080±80K", "x": 30.73, "t": 2065.4}]},
   "mark": {"type": "text", "fontSize": 22, "fontWeight": "bold", "align": "left", "baseline": "alphabetic", "color": "#111111"},
   "encoding": {
    "x": {"field": "x", "type": "quantitative", "scale": {"domain": [29, 63], "nice": false, "zero": false}, "axis": null},
    "y": {"field": "t", "type": "quantitative", "scale": {"domain": [1450, 2200], "nice": false, "zero": false}, "axis": null},
    "text": {"field": "lab"}
   }},
  {"data": {"values": [{"lab": "c", "x": 31.19, "t": 2145.7}]},
   "mark": {"type": "text", "fontSize": 31, "align": "center", "baseline": "alphabetic", "color": "#111111"},
   "encoding": {
    "x": {"field": "x", "type": "quantitative", "scale": {"domain": [29, 63], "nice": false, "zero": false},
      "axis": {"orient": "top", "values": [30,35,40,45,50,55,60], "labels": false, "title": null}},
    "y": {"field": "t", "type": "quantitative", "scale": {"domain": [1450, 2200], "nice": false, "zero": false},
      "axis": {"orient": "right", "values": [1500,1600,1700,1800,1900,2000,2100,2200], "labels": false, "title": null}},
    "text": {"field": "lab"}
   }}
 ]
}
]
}
